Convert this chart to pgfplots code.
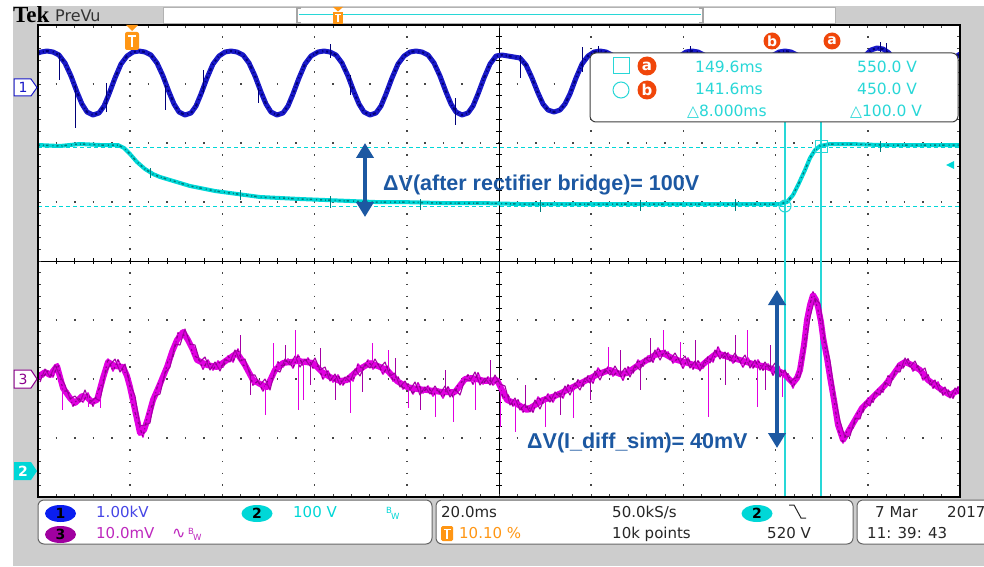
\documentclass[border=0pt]{standalone}
\usepackage{pgfplots}
\pgfplotsset{compat=1.18}
\usetikzlibrary{arrows.meta}
\usepackage{fontspec}
\setmainfont{DejaVu Sans}
\newfontfamily\annot{Liberation Sans}
\newfontfamily\tekserif{Liberation Serif}
\definecolor{bggray}{RGB}{205,205,205}
\definecolor{gridc}{RGB}{70,70,70}
\definecolor{chone}{RGB}{25,25,200}
\definecolor{chonedark}{RGB}{0,0,120}
\definecolor{chtwo}{RGB}{0,215,215}
\definecolor{chtwodark}{RGB}{0,125,125}
\definecolor{chthree}{RGB}{225,0,225}
\definecolor{chthreemid}{RGB}{165,0,165}
\definecolor{chthreedark}{RGB}{140,0,140}
\definecolor{cursc}{RGB}{40,215,215}
\definecolor{annblue}{RGB}{28,88,162}
\definecolor{orred}{RGB}{240,70,10}
\definecolor{trigor}{RGB}{255,150,20}
\definecolor{badgeone}{RGB}{10,30,240}
\definecolor{badgethree}{RGB}{160,0,160}
\definecolor{txtone}{RGB}{70,70,230}
\definecolor{txtthree}{RGB}{190,40,190}
\newcommand{\fs}[1]{\fontsize{#1}{#1}\selectfont}
\pgfplotstableread{
x y
38 53
41 52
47 51
53 52
59 55
65 63
71 76
77 92
82 104
87 112
93 115
99 113
104 106
109 94
115 78
121 64
127 56
133 52
139 51
145 52
151 55
157 63
163 76
169 92
174 104
179 112
185 115
191 113
196 106
201 94
207 78
213 64
219 56
225 52
231 51
237 52
243 55
249 63
255 76
261 92
266 104
271 112
277 115
283 113
288 106
293 94
299 78
305 64
311 56
318 52
324 51
330 52
336 55
342 63
348 76
354 92
359 104
364 112
370 115
376 113
381 106
386 94
392 78
398 64
404 56
410 52
416 51
422 52
428 55
434 63
440 76
446 92
451 104
456 112
462 115
468 113
473 106
478 94
484 78
490 64
496 56
502 55
508 56
514 57
520 58
526 65
532 78
538 93
543 104
548 110
554 112
560 110
565 104
570 94
576 78
582 64
588 56
594 52
600 51
606 52
612 55
618 63
624 76
630 92
635 104
640 112
646 115
652 113
657 106
662 94
668 78
674 64
680 56
686 52
692 51
698 52
704 55
710 63
716 76
722 92
727 104
732 112
738 115
744 113
749 106
754 94
760 78
766 64
772 56
779 52
785 51
791 52
797 55
803 63
809 76
815 92
820 104
825 112
831 115
837 113
842 106
847 94
853 78
859 64
865 56
871 50
877 48
883 49
889 53
895 63
901 76
907 92
912 104
917 112
923 115
929 113
934 106
939 94
945 78
951 64
957 56
960 54
}\chonetab
\pgfplotstableread{
x y
38 145
60 146
80 144
100 145
118 145
124 148
130 154
137 162
145 169
153 174
160 177
170 180
180 183
190 186
200 188
215 191
230 193
245 195
260 197
280 198
300 199
325 200
350 201
375 202
400 202
440 203
480 203
520 204
560 204
600 204
650 204
700 204
750 204
780 204
787 202
793 195
799 183
805 170
810 158
815 150
820 146
830 144
850 144
880 145
920 145
960 145
}\chtwotab
\pgfplotstableread{
x y
38 377
45 372
50 375
57 366
63 388
70 398
75 403
82 396
87 397
92 402
97 400
103 378
108 362
115 366
123 367
127 376
130 387
135 410
140 433
144 430
148 418
153 400
160 384
167 367
172 352
177 340
183 332
188 340
193 350
197 360
207 365
217 367
227 360
237 353
245 365
253 380
260 384
267 387
275 370
283 363
298 361
313 363
322 372
330 377
340 381
347 380
358 370
370 363
380 367
387 370
397 381
407 387
417 389
427 390
442 392
455 392
465 379
472 378
485 381
497 380
507 400
517 404
527 410
535 405
543 400
555 396
567 390
577 385
587 380
598 374
610 370
620 374
627 373
637 366
647 360
655 355
663 353
670 357
677 360
688 363
700 367
708 360
717 353
728 357
740 360
753 364
767 367
775 370
783 373
790 380
793 383
797 378
800 370
804 345
807 320
810 305
813 295
816 300
818 307
821 322
823 337
827 358
830 377
834 400
838 425
843 440
848 432
855 420
862 408
870 400
878 392
885 385
893 375
900 365
905 362
912 365
920 370
928 380
935 385
942 390
950 395
955 392
960 390
}\chthreetab
\pgfplotstableread{
x y
38 372
43 377
48 371
53 377
58 364
63 391
68 391
73 406
78 398
83 402
88 393
93 406
98 391
103 382
108 359
113 371
118 360
123 370
128 376
133 406
138 422
143 437
148 413
153 404
158 384
163 381
168 361
173 356
178 333
183 335
188 336
193 355
198 358
203 369
208 360
213 370
218 361
223 367
228 356
233 362
238 349
243 365
248 367
253 385
258 381
263 391
268 380
273 378
278 362
283 367
288 359
293 368
298 355
303 365
308 358
313 368
318 366
323 379
328 371
333 382
338 375
343 385
348 376
353 381
358 364
363 370
368 360
373 369
378 364
383 374
388 366
393 381
398 377
403 389
408 384
413 394
418 383
423 393
428 386
433 396
438 389
443 398
448 387
453 397
458 385
463 381
468 375
473 384
478 373
483 384
488 377
493 385
498 380
503 398
508 395
513 406
518 400
523 412
528 406
533 412
538 397
543 403
548 394
553 402
558 392
563 398
568 385
573 391
578 380
583 386
588 376
593 383
598 368
603 375
608 367
613 376
618 371
623 380
628 367
633 373
638 360
643 366
648 356
653 362
658 348
663 356
668 352
673 363
678 358
683 368
688 358
693 369
698 361
703 368
708 357
713 362
718 347
723 358
728 353
733 363
738 358
743 367
748 358
753 368
758 360
763 370
768 364
773 375
778 365
783 376
788 374
793 388
798 373
803 354
808 313
813 292
818 310
823 334
828 367
833 391
838 429
843 443
848 428
853 428
858 411
863 412
868 398
873 402
878 389
883 392
888 376
893 379
898 364
903 368
908 359
913 371
918 366
923 380
928 375
933 388
938 382
943 395
948 390
953 398
958 387
960 390
}\chthreezigA
\pgfplotstableread{
x y
40 382
45 369
50 377
55 365
60 376
65 385
70 399
75 396
80 402
85 390
90 403
95 398
100 401
105 374
110 365
115 359
120 372
125 364
130 384
135 396
140 426
145 425
150 423
155 396
160 394
165 373
170 367
175 344
180 345
185 329
190 344
195 345
200 362
205 357
210 370
215 362
220 371
225 359
230 362
235 350
240 361
245 359
250 375
255 375
260 385
265 379
270 390
275 370
280 372
285 359
290 365
295 356
300 367
305 359
310 366
315 358
320 370
325 367
330 381
335 374
340 385
345 377
350 382
355 369
360 376
365 364
370 368
375 359
380 368
385 362
390 376
395 373
400 387
405 381
410 390
415 382
420 395
425 387
430 394
435 386
440 394
445 386
450 397
455 389
460 395
465 379
470 381
475 372
480 385
485 378
490 385
495 375
500 384
505 386
510 405
515 398
520 410
525 404
530 412
535 400
540 409
545 397
550 402
555 392
560 397
565 386
570 395
575 383
580 390
585 378
590 383
595 371
600 380
605 369
610 375
615 366
620 375
625 368
630 377
635 365
640 370
645 358
650 362
655 350
660 360
665 350
670 360
675 353
680 362
685 356
690 368
695 361
700 371
705 360
710 363
715 350
720 359
725 352
730 361
735 353
740 362
745 355
750 368
755 360
760 370
765 362
770 370
775 363
780 377
785 370
790 382
795 378
800 377
805 348
810 317
815 298
820 304
825 340
830 361
835 397
840 421
845 437
850 436
855 418
860 419
865 402
870 406
875 392
880 395
885 382
890 386
895 371
900 372
905 358
910 367
915 361
920 372
925 368
930 385
935 380
940 392
945 387
950 398
955 388
960 395
}\chthreezigB
\begin{document}
\begin{tikzpicture}
\useasboundingbox (0,0) rectangle (984pt,566pt);
\fill[white] (0,0) rectangle (984pt,566pt);
\begin{scope}[x=1pt,y=-1pt,yshift=566pt]
  \fill[bggray] (13,6) rectangle (984,566);
  % top bar
  \fill[white] (163,7) rectangle (835,23);
  \draw[black!30, line width=0.6pt] (163,7) rectangle (835,23);
  \draw[black!35, line width=1.2pt] (301,8)--(297,8)--(297,23)--(301,23);
  \draw[black!35, line width=1.2pt] (699,8)--(703,8)--(703,23)--(699,23);
  \draw[cursc, line width=1.5pt] (299,14.5)--(701,14.5);
  \fill[trigor] (333,7)--(343,7)--(338,11.5)--cycle;
  \fill[trigor] (333,12) rectangle (343,24);
  \draw[white, line width=1.3pt] (335,14.5)--(341,14.5) (338,14.5)--(338,22.5);
  \node[anchor=base west, inner sep=0, text=black] at (13,22.5) {\tekserif\bfseries\fs{23}Tek};
  \node[anchor=base west, inner sep=0, text=black!80] at (55,21.5) {\fs{16}PreVu};
  % screen
  \fill[white] (38,25) rectangle (960,497);
  \foreach \k in {1,2,3,4,6,7,8,9}
    \draw[gridc, line width=1.5pt, dash pattern=on 1.5pt off 10.3pt, dash phase=0.75pt] ({38+92.2*\k},25) -- ({38+92.2*\k},497);
  \foreach \j in {1,2,3,5,6,7}
    \draw[gridc, line width=1.5pt, dash pattern=on 1.5pt off 16.94pt, dash phase=0.75pt] (38,{25+59*\j}) -- (960,{25+59*\j});
  \draw[black, line width=1pt] (499,25)--(499,497) (38,261)--(960,261);
  \foreach \m in {1,...,39} {
    \draw[black, line width=0.8pt] (496,{25+11.8*\m})--(502,{25+11.8*\m});
    \draw[gridc, line width=0.9pt] (38,{25+11.8*\m})--(41,{25+11.8*\m});
    \draw[gridc, line width=0.9pt] (957,{25+11.8*\m})--(960,{25+11.8*\m});
  }
  \foreach \n in {1,...,49} {
    \draw[black, line width=0.8pt] ({38+18.44*\n},258)--({38+18.44*\n},264);
    \draw[gridc, line width=0.9pt] ({38+18.44*\n},25)--({38+18.44*\n},28);
    \draw[gridc, line width=0.9pt] ({38+18.44*\n},494)--({38+18.44*\n},497);
  }
  % cursor and reference lines
  \draw[chtwo, line width=0.9pt, dash pattern=on 4pt off 3pt] (38,147)--(960,147);
  \draw[chtwo, line width=0.9pt, dash pattern=on 4pt off 3pt] (38,206)--(960,206);
  \draw[cursc, line width=1.2pt] (785,122)--(785,497);
  \draw[cursc, line width=1.2pt] (821,122)--(821,497);
\end{scope}

\begin{axis}[at={(38pt,69pt)}, anchor=south west, width=922pt, height=472pt, scale only axis,
  xmin=38, xmax=960, ymin=25, ymax=497, y dir=reverse,
  axis line style={draw=none}, xtick=\empty, ytick=\empty,
  unbounded coords=jump, clip=true]
% channel 3 (magenta)
\addplot[chthree, line width=6pt, line join=round, no marks] table {\chthreetab};
\addplot[chthree, line width=1.6pt, line join=round, no marks] table {\chthreezigA};
\addplot[chthreemid, line width=1.1pt, line join=round, no marks] table {\chthreezigB};
\addplot[chthreedark, line width=1.2pt, line join=round, no marks, dash pattern=on 2pt off 2.5pt on 1pt off 3pt on 3pt off 2pt on 1.5pt off 4pt] table {\chthreezigA};
\addplot[chthree, line width=1pt, no marks] coordinates {
(62,390)(62,410)(62,nan)(88,395)(88,407)(88,nan)(100,398)(100,408)(100,nan)(265,385)(265,415)(265,nan)(273,372)(273,343)(273,nan)(295,360)(295,330)(295,nan)(298,362)(298,410)(298,nan)(303,362)(303,400)(303,nan)(350,380)(350,413)(350,nan)(372,363)(372,343)(372,nan)(388,370)(388,350)(388,nan)(408,387)(408,408)(408,nan)(435,391)(435,417)(435,nan)(453,393)(453,422)(453,nan)(475,379)(475,410)(475,nan)(500,385)(500,427)(500,nan)(515,402)(515,432)(515,nan)(545,399)(545,427)(545,nan)(573,387)(573,418)(573,nan)(608,371)(608,347)(608,nan)(663,353)(663,330)(663,nan)(680,360)(680,342)(680,nan)(708,360)(708,417)(708,nan)(747,362)(747,330)(747,nan)(757,365)(757,407)(757,nan)(782,373)(782,397)
};
\addplot[chthreemid, line width=0.9pt, no marks] coordinates {
(240,355)(240,335)(240,nan)(250,372)(250,395)(250,nan)(285,362)(285,345)(285,nan)(310,363)(310,385)(310,nan)(320,368)(320,348)(320,nan)(335,378)(335,400)(335,nan)(362,367)(362,392)(362,nan)(395,378)(395,358)(395,nan)(420,389)(420,410)(420,nan)(445,392)(445,370)(445,nan)(490,380)(490,360)(490,nan)(525,408)(525,385)(525,nan)(560,393)(560,415)(560,nan)(590,378)(590,400)(590,nan)(620,373)(620,350)(620,nan)(640,364)(640,390)(640,nan)(650,358)(650,338)(650,nan)(695,365)(695,340)(695,nan)(725,356)(725,385)(725,nan)(735,358)(735,335)(735,nan)(765,367)(765,390)(765,nan)(770,368)(770,345)
};
% channel 2 (cyan)
\addplot[chtwo, line width=4pt, line join=round, no marks] table {\chtwotab};
\addplot[chtwodark, line width=1.5pt, line join=round, no marks, dash pattern=on 2pt off 3pt on 1pt off 2pt on 2.5pt off 4pt on 1pt off 3pt] table {\chtwotab};
\addplot[chtwodark, line width=0.9pt, no marks] coordinates {
(150,168)(150,178)(150,nan)(240,190)(240,200)(240,nan)(330,196)(330,208)(330,nan)(420,199)(420,210)(420,nan)(540,200)(540,212)(540,nan)(640,200)(640,211)(640,nan)(735,199)(735,211)(735,nan)(880,141)(880,152)
};
% channel 1 (blue)
\addplot[chone, line width=5pt, line join=round, no marks] table {\chonetab};
\addplot[chonedark, line width=2pt, line join=round, no marks, dash pattern=on 2pt off 3pt on 1pt off 2pt on 3pt off 4pt on 1pt off 3pt] table {\chonetab};
\addplot[chonedark, line width=1pt, no marks] coordinates {
(59,53)(59,80)(59,nan)(75,85)(75,128)(75,nan)(106,83)(106,112)(106,nan)(165,85)(165,110)(165,nan)(203,70)(203,93)(203,nan)(258,88)(258,103)(258,nan)(330,44)(330,58)(330,nan)(350,75)(350,95)(350,nan)(455,98)(455,125)(455,nan)(520,55)(520,78)(520,nan)(582,47)(582,72)(582,nan)(598,46)(598,55)(598,nan)(690,46)(690,54)(690,nan)(880,42)(880,52)(880,nan)(886,43)(886,52)
};
\end{axis}

\begin{scope}[x=1pt,y=-1pt,yshift=566pt]
  \draw[black, line width=1.6pt] (38,25) rectangle (960,497);
  % markers
  \draw[fill=white, draw=chone, line width=1pt] (14,79)--(31,79)--(37,87.5)--(31,96)--(14,96)--cycle;
  \node[text=chone, inner sep=0] at (23,87.5) {\fs{14}1};
  \draw[fill=white, draw=chthreedark, line width=1pt] (14,370)--(31,370)--(37,379)--(31,388)--(14,388)--cycle;
  \node[text=chthreedark, inner sep=0] at (23,379) {\fs{14}3};
  \fill[chtwo] (14,462)--(31,462)--(37,471)--(31,480)--(14,480)--cycle;
  \node[text=white, inner sep=0] at (23,471) {\fs{14}\bfseries 2};
  \fill[chtwo] (946,165)--(954,161)--(954,169)--cycle;
  % trigger marker top
  \fill[trigor] (126,25)--(138,25)--(132,31)--cycle;
  \fill[trigor, rounded corners=2pt] (125,32) rectangle (139,50);
  \draw[white, line width=2pt] (128,36.5)--(136,36.5) (132,36.5)--(132,47);
  % cursor glyphs on traces
  \draw[cursc, line width=1pt] (785,206) circle (6pt);
  \draw[cursc, line width=1pt] (815,141) rectangle (827,153);
  \fill[orred] (772,41) circle (8.5pt);
  \node[text=white, inner sep=0] at (772,41) {\fs{14}\bfseries b};
  \fill[orred] (832,41) circle (8.5pt);
  \node[text=white, inner sep=0] at (832,41) {\fs{14}\bfseries a};
  % cursor readout box
  \draw[rounded corners=6pt, fill=white, draw=black!75, line width=1pt] (590,53) rectangle (958,122);
  \draw[cursc, line width=1pt] (613,58) rectangle (629,74);
  \draw[cursc, line width=1pt] (621,90) circle (8pt);
  \fill[orred] (647,66) circle (9.5pt);
  \node[text=white, inner sep=0] at (647,66) {\fs{15}\bfseries a};
  \fill[orred] (647,90) circle (9.5pt);
  \node[text=white, inner sep=0] at (647,90) {\fs{15}\bfseries b};
  \begin{scope}[every node/.style={anchor=base west, inner sep=0, text=cursc}]
    \node at (695,73) {\fs{15.5}149.6ms};
    \node at (857,73) {\fs{15.5}550.0 V};
    \node at (695,95) {\fs{15.5}141.6ms};
    \node at (857,95) {\fs{15.5}450.0 V};
    \node at (687,117) {\fs{15.5}△8.000ms};
    \node at (850,117) {\fs{15.5}△100.0 V};
  \end{scope}
  % annotations
  \draw[annblue, line width=4pt, {Triangle[length=15pt,width=17pt]}-{Triangle[length=15pt,width=17pt]}] (365,143)--(365,217);
  \node[anchor=base west, inner sep=0, text=annblue] at (383,190) {\annot\bfseries\fs{21.5}ΔV(after rectifier bridge)= 100V};
  \draw[annblue, line width=4pt, {Triangle[length=15pt,width=17pt]}-{Triangle[length=15pt,width=17pt]}] (777,290)--(777,448);
  \node[anchor=base west, inner sep=0, text=annblue] at (527,448) {\annot\bfseries\fs{21.5}ΔV(I\_diff\_sim)= 40mV};
  % status bar
  \draw[rounded corners=6pt, fill=white, draw=black!60, line width=1pt] (38,500) rectangle (432,544);
  \draw[rounded corners=6pt, fill=white, draw=black!60, line width=1pt] (436,500) rectangle (853,544);
  \draw[rounded corners=6pt, fill=white, draw=black!60, line width=1pt] (857,500) rectangle (1000,544);
  \fill[badgeone] (60.5,513.5) ellipse [x radius=15.5pt, y radius=8.5pt];
  \node[inner sep=0] at (60.5,513.5) {\fs{14}\bfseries 1};
  \fill[chtwo] (257,513.5) ellipse [x radius=15.5pt, y radius=8.5pt];
  \node[inner sep=0] at (257,513.5) {\fs{14}\bfseries 2};
  \fill[badgethree] (60.5,534.5) ellipse [x radius=15.5pt, y radius=8.5pt];
  \node[inner sep=0] at (60.5,534.5) {\fs{14}\bfseries 3};
  \fill[chtwo] (757,513.5) ellipse [x radius=15.5pt, y radius=8.5pt];
  \node[inner sep=0] at (757,513.5) {\fs{14}\bfseries 2};
  \begin{scope}[every node/.style={anchor=base west, inner sep=0}]
    \node[text=txtone] at (96,517) {\fs{15}1.00kV};
    \node[text=chtwo] at (293,517) {\fs{15}100 V};
    \node[text=chtwo] at (386,513) {\fs{8.5}B};
    \node[text=chtwo] at (391,519) {\fs{8.5}W};
    \node[text=txtthree] at (96,538) {\fs{15}10.0mV};
    \node[text=txtthree] at (172,538) {\fs{16}∿};
    \node[text=txtthree] at (188,534) {\fs{8.5}B};
    \node[text=txtthree] at (193,540) {\fs{8.5}W};
    \node[text=black!85] at (441,517) {\fs{15}20.0ms};
    \node[text=trigor] at (459,538) {\fs{15}10.10 \%};
    \node[text=black!85] at (612,517) {\fs{15}50.0kS/s};
    \node[text=black!85] at (612,538) {\fs{15}10k points};
    \node[text=black!85] at (767,538) {\fs{15}520 V};
    \node[text=black!85] at (875,517) {\fs{15}7 Mar};
    \node[text=black!85] at (947,517) {\fs{15}2017};
    \node[text=black!85] at (867,538) {\fs{15}11: 39: 43};
  \end{scope}
  \fill[trigor, rounded corners=1.5pt] (441,526) rectangle (453,541);
  \draw[white, line width=1.6pt] (443.5,529.5)--(450.5,529.5) (447,529.5)--(447,539);
  \draw[black!85, line width=1pt] (789,505)--(794,505)--(801,518)--(806,518);
\end{scope}
\end{tikzpicture}
\end{document}
